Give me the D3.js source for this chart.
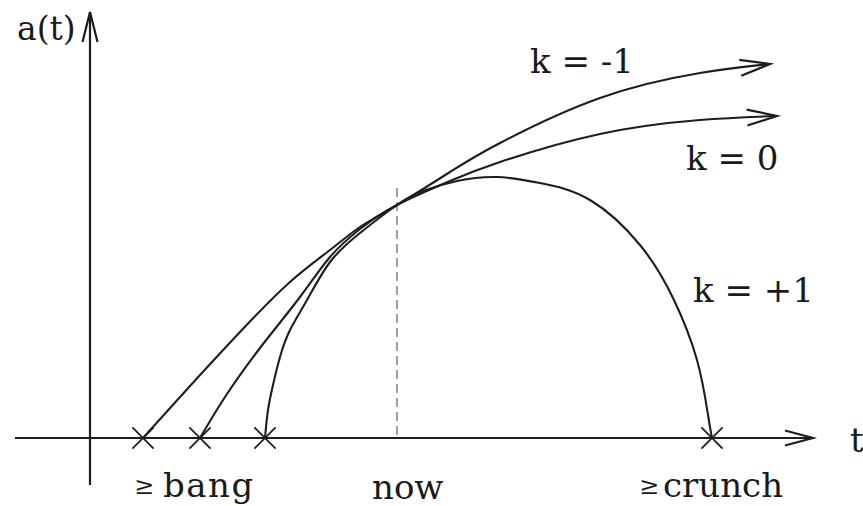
<!DOCTYPE html>
<html>
<head>
<meta charset="utf-8">
<script src="https://cdn.jsdelivr.net/npm/d3@7/dist/d3.min.js"></script>
<style>
  html, body { margin: 0; padding: 0; background: #fff; }
  svg { display: block; }
  text { font-family: "DejaVu Serif", serif; fill: #1a1a1a; }
</style>
</head>
<body>
<svg id="chart" width="863" height="506"></svg>
<script>
// ---- data (schematic units: t = time, a = scale factor) ----
const curveNames = ["k = -1", "k = 0", "k = +1"];
const kMinus1 = [[5.3,0],[10.0,5.2],[15.0,10.6],[20.0,15.6],[24.0,18.8],[27.0,21.1],[30.7,23.3],[36.0,26.6],[41.0,29.5],[51.0,34.0],[61.0,36.5],[68.0,37.4]];
const kZero   = [[11.0,0],[13.5,4.1],[17.0,9.0],[21.0,14.1],[24.0,18.1],[27.0,20.9],[30.7,23.3],[36.0,25.7],[41.0,27.6],[51.0,30.4],[61.0,31.8],[68.7,32.2]];
const kPlus1  = [[17.5,0],[17.8,2.8],[18.3,5.3],[19.0,8.1],[20.0,10.8],[21.7,13.8],[24.0,17.6],[27.0,20.5],[30.7,23.3],[33.3,24.7],[36.7,25.7],[40.7,26.1],[45.0,25.5],[50.0,23.8],[55.0,19.3],[58.3,14.0],[60.7,7.8],[61.8,2.3],[62.2,0]];
const bangTimes = [5.3, 11.0, 17.5];
const crunchTime = 62.2;
const nowTime = 30.7;
const nowA = 25.0;
const axisLabels = ["a(t)", "t"];
const eventLabels = ["bang", "now", "crunch"];

// ---- scales ----
const x = d3.scaleLinear().domain([0, 72]).range([90, 810]);
const y = d3.scaleLinear().domain([0, 42]).range([438, 18]);

const svg = d3.select("#chart");
const ink = "#1e1e1e";

// arrowhead helper (open V)
function vArrow(g, tip, from, len, half) {
  const dx = tip[0] - from[0], dy = tip[1] - from[1];
  const L = Math.hypot(dx, dy), ux = dx / L, uy = dy / L;
  const bx = tip[0] - ux * len, by = tip[1] - uy * len;
  const px = -uy * half, py = ux * half;
  g.append("path")
    .attr("d", `M${bx + px},${by + py}L${tip[0]},${tip[1]}L${bx - px},${by - py}`)
    .attr("fill", "none").attr("stroke", ink).attr("stroke-width", 2.2)
    .attr("stroke-linejoin", "miter");
}

// ---- axes ----
const axes = svg.append("g");
axes.append("line")
  .attr("x1", x(-7.5)).attr("x2", x(72.3)).attr("y1", y(0)).attr("y2", y(0))
  .attr("stroke", ink).attr("stroke-width", 2.2);
vArrow(axes, [x(72.3), y(0)], [x(60), y(0)], 28, 7.5);
axes.append("line")
  .attr("x1", x(0)).attr("x2", x(0)).attr("y1", y(-4.7)).attr("y2", y(42.6))
  .attr("stroke", ink).attr("stroke-width", 2.2);
vArrow(axes, [x(0), y(42.6)], [x(0), y(30)], 30, 7.5);

// ---- now marker ----
svg.append("line")
  .attr("x1", x(nowTime)).attr("x2", x(nowTime))
  .attr("y1", y(nowA)).attr("y2", y(0))
  .attr("stroke", "#a0a0a0").attr("stroke-width", 2)
  .attr("stroke-dasharray", "9,5");

// ---- curves ----
const line = d3.line().x(d => x(d[0])).y(d => y(d[1])).curve(d3.curveNatural);
const curves = svg.append("g");
[kMinus1, kZero, kPlus1].forEach((pts, i) => {
  curves.append("path").attr("d", line(pts))
    .attr("fill", "none").attr("stroke", ink).attr("stroke-width", 2.1);
  if (i < 2) {
    const n = pts.length;
    vArrow(curves, [x(pts[n-1][0]), y(pts[n-1][1])], [x(pts[n-2][0]), y(pts[n-2][1])], 30, 8);
  }
});

// ---- stars at bang / crunch ----
const stars = svg.append("g");
bangTimes.concat([crunchTime]).forEach(t => {
  const cx = x(t), cy = y(0), r = 15;
  [0, 45, 135].forEach(ang => {
    const a = ang * Math.PI / 180;
    stars.append("line")
      .attr("x1", cx - r * Math.cos(a)).attr("y1", cy - r * Math.sin(a))
      .attr("x2", cx + r * Math.cos(a)).attr("y2", cy + r * Math.sin(a))
      .attr("stroke", ink).attr("stroke-width", 1.8);
  });
});

// ---- text ----
const fs = 34;
svg.append("text").attr("x", 17).attr("y", 40).attr("font-size", 33).text(axisLabels[0]);
svg.append("text").attr("x", 850).attr("y", 452).attr("font-size", fs).text(axisLabels[1]);

svg.append("text").attr("x", 530).attr("y", 73).attr("font-size", fs).text(curveNames[0]);
svg.append("text").attr("x", 686).attr("y", 170).attr("font-size", fs).text(curveNames[1]);
svg.append("text").attr("x", 693).attr("y", 302).attr("font-size", fs).text(curveNames[2]);

svg.append("text").attr("x", 134).attr("y", 494).attr("font-size", 24).text("≥");
svg.append("text").attr("x", 163).attr("y", 497).attr("font-size", fs).attr("letter-spacing", 1.5).text(eventLabels[0]);
svg.append("text").attr("x", 372).attr("y", 499).attr("font-size", fs).text(eventLabels[1]);
svg.append("text").attr("x", 639).attr("y", 494).attr("font-size", 24).text("≥");
svg.append("text").attr("x", 663).attr("y", 497).attr("font-size", fs).text(eventLabels[2]);
</script>
</body>
</html>
